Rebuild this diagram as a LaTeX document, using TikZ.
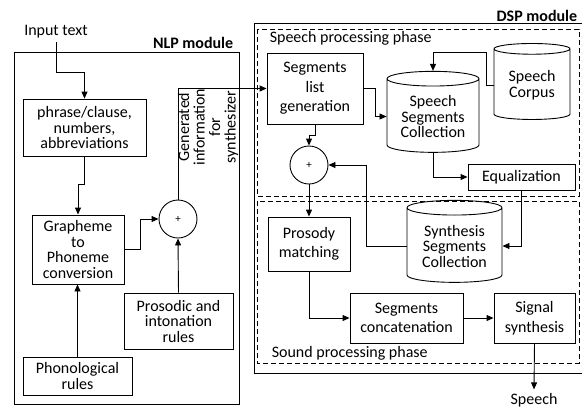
\documentclass[tikz,border=0pt]{standalone}
\usepackage{fontspec}
\setmainfont{Carlito}
\usetikzlibrary{arrows.meta,shapes.geometric}

\begin{document}
\begin{tikzpicture}[x=1pt, y=-1pt, line width=0.9pt,
    font=\fontsize{16}{15.5}\selectfont,
    box/.style={draw, rectangle, align=center, inner sep=1pt},
    loose/.style={font=\fontsize{16}{19.5}\selectfont},
    sumnode/.style={draw, circle, minimum size=38pt, inner sep=0pt, font=\fontsize{11}{11}\selectfont},
    store/.style={draw, cylinder, shape border rotate=90, aspect=0.22, align=center, inner sep=1pt},
    arr/.style={-{Triangle[length=7pt,width=6pt]}},
    phase/.style={draw, dash pattern=on 5pt off 3pt}]
    \useasboundingbox (0,0) rectangle (582,408);

    % NLP module
    \draw (14,52) rectangle (239,404);
    \node[anchor=east, font=\fontsize{16}{16}\selectfont\bfseries] (nlplabel) at (237,43) {NLP module};
    \node (input) at (56,32) {Input text};
    \node[box, minimum width=123pt, minimum height=57pt] (phrase) at (84.5,127.5) {phrase/clause,\\numbers,\\abbreviations};
    \node[box, minimum width=92pt, minimum height=69pt] (g2p) at (78,249.5) {Grapheme\\to\\Phoneme\\conversion};
    \node[box, minimum width=109pt, minimum height=38pt] (phono) at (77.5,376) {Phonological\\rules};
    \node[box, minimum width=109pt, minimum height=56pt] (prosodic) at (178.5,321) {Prosodic and\\intonation\\rules};
    \node[sumnode] (sum1) at (178,219) {+};
    \node[rotate=90, align=center] (geninfo) at (208,127) {Generated\\information\\for\\synthesizer};

    \draw[arr] (input.south) -- ++(0,30) -| (phrase.north);
    \draw[arr] (phrase.south) -- ++(0,28) -| (g2p.north);
    \draw[arr] (phono.north) -- (phono.north |- g2p.south);
    \draw[arr] (g2p.east) -- ++(16,0) |- (sum1.west);
    \draw[arr] (prosodic.north) -- (sum1.south);

    % DSP module
    \draw (254,23) rectangle (586,373);
    \node[anchor=east, font=\fontsize{16}{16}\selectfont\bfseries] (dsplabel) at (581,16) {DSP module};
    \draw[phase] (257,29) rectangle (579,196);
    \draw[phase] (257,201) rectangle (579,363);
    \node[anchor=west] (speechphase) at (266,38) {Speech processing phase};
    \node[anchor=west] (soundphase) at (268,353) {Sound processing phase};

    \node[box, loose, minimum width=96pt, minimum height=71pt] (seglist) at (315,88.5) {Segments\\list\\generation};
    \node[store, minimum width=92pt, minimum height=81pt] (sscoll) at (433,116.5) {Speech\\Segments\\Collection};
    \node[store, minimum width=76pt, minimum height=76pt] (corpus) at (532,85) {Speech\\Corpus};
    \node[box, minimum width=107pt, minimum height=26pt] (equal) at (521.5,177) {Equalization};
    \node[sumnode] (sum2) at (309,165) {+};
    \node[box, loose, minimum width=82pt, minimum height=54pt] (prosody) at (309,244) {Prosody\\matching};
    \node[store, minimum width=95pt, minimum height=82pt] (synthcoll) at (454.5,246) {Synthesis\\Segments\\Collection};
    \node[box, loose, minimum width=113pt, minimum height=50pt] (concat) at (406.5,318) {Segments\\concatenation};
    \node[box, loose, minimum width=81pt, minimum height=50pt] (signal) at (534.5,318) {Signal\\synthesis};
    \node (speech) at (534,400) {Speech};

    \draw[arr] (sum1.north) |- (seglist.west);
    \draw[arr] (seglist.east) -- ++(12,0) |- (sscoll.west);
    \draw[arr] (corpus.west) -- ++(-7,0) -- ++(0,-33) -| (sscoll.north);
    \draw[arr] (seglist.south) -- ++(0,11) -| (sum2.north);
    \draw[arr] (sscoll.south) |- (equal.west);
    \draw[arr] (equal.south) |- (synthcoll.east);
    \draw[arr] (synthcoll.west) -- ++(-40,0) |- (sum2.east);
    \draw[arr] (sum2.south) -- (prosody.north);
    \draw[arr] (prosody.south) |- (concat.west);
    \draw[arr] (concat.east) -- (signal.west);
    \draw[arr] (signal.south) -- (speech.north);
\end{tikzpicture}
\end{document}
